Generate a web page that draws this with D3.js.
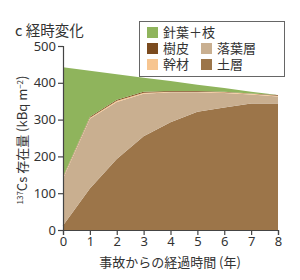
<!DOCTYPE html>
<html>
<head>
<meta charset="utf-8">
<script src="https://cdn.jsdelivr.net/npm/d3@7"></script>
<style>
  body { margin: 0; background: #fff; }
  text { font-family: "Noto Sans CJK JP", "Noto Sans", sans-serif; fill: #333; }
</style>
</head>
<body>
<div id="chart"></div>
<script>
// years since accident
let years = [0, 1, 2, 3, 4, 5, 6, 7, 8];

// layer amounts (kBq m-2), bottom to top
let soil   = [12, 113, 193, 255, 293, 321, 333, 344, 344];
let litter = [128, 189, 155, 115, 81, 53, 39, 24, 19];
let trunk  = [3, 3, 3, 3, 2, 2, 2, 2, 2];
let bark   = [2, 3, 3, 3, 2, 2, 2, 1, 2];
let needle = [297, 125, 69, 38, 27, 17, 10, 5, 0];

let yTicks = [0, 100, 200, 300, 400, 500];

let keys = ["soil", "litter", "trunk", "bark", "needle"];
let colors = {soil: "#9c7549", litter: "#c9af90", trunk: "#f7c590", bark: "#7b4b1f", needle: "#8fb45c"};
let labels = {soil: "土層", litter: "落葉層", trunk: "幹材", bark: "樹皮", needle: "針葉＋枝"};

let rows = years.map(function (y, i) {
    return {year: y, soil: soil[i], litter: litter[i], trunk: trunk[i], bark: bark[i], needle: needle[i]};
});

let margin = {top: 46, right: 22, bottom: 50, left: 63};
let width = 300 - margin.left - margin.right,
    height = 280 - margin.top - margin.bottom;

let svg = d3.select("#chart").append("svg")
    .attr("width", 300)
    .attr("height", 280);

let g = svg.append("g")
    .attr("transform", "translate(" + margin.left + "," + margin.top + ")");

let x = d3.scaleLinear().domain([0, 8]).range([0, width]);
let y = d3.scaleLinear().domain([0, 500]).range([height, 0]);

let series = d3.stack().keys(keys)(rows);

let area = d3.area()
    .x(function (d) { return x(d.data.year); })
    .y0(function (d) { return y(d[0]); })
    .y1(function (d) { return y(d[1]); });

g.selectAll("path.layer")
    .data(series)
    .enter().append("path")
    .attr("class", "layer")
    .attr("d", area)
    .attr("fill", function (d) { return colors[d.key]; });

// axes
let yAxis = g.append("g")
    .call(d3.axisLeft(y).tickValues(yTicks).tickSize(5).tickPadding(2));
let xAxis = g.append("g")
    .attr("transform", "translate(0," + height + ")")
    .call(d3.axisBottom(x).ticks(8).tickSize(5).tickPadding(2));

[yAxis, xAxis].forEach(function (a) {
    a.select(".domain").attr("stroke", "#444").attr("stroke-width", 1.2);
    a.selectAll(".tick line").attr("stroke", "#444").attr("stroke-width", 1.2);
    a.selectAll(".tick text")
        .style("font-family", "'Noto Sans', sans-serif")
        .style("font-size", "13px")
        .attr("fill", "#333");
});

// title
svg.append("text")
    .attr("x", 15)
    .attr("y", 36)
    .style("font-size", "14.5px")
    .text("c 経時変化");

// y axis label
let yl = svg.append("text")
    .attr("transform", "translate(27,140) rotate(-90)")
    .attr("text-anchor", "middle")
    .style("font-size", "13px");
yl.append("tspan").style("font-size", "8px").attr("dy", "-4").text("137");
yl.append("tspan").attr("dy", "4").text("Cs 存在量 (kBq m");
yl.append("tspan").style("font-size", "8px").attr("dy", "-4").text("−2");
yl.append("tspan").attr("dy", "4").text(")");

// x axis label
svg.append("text")
    .attr("x", 170)
    .attr("y", 267)
    .attr("text-anchor", "middle")
    .style("font-size", "13px")
    .text("事故からの経過時間 (年)");

// legend
let legend = svg.append("g");
legend.append("rect")
    .attr("x", 139.5).attr("y", 21.5)
    .attr("width", 145).attr("height", 55)
    .attr("fill", "#fff")
    .attr("stroke", "#666");

let legendItems = [
    {key: "needle", col: 0, row: 0},
    {key: "bark", col: 0, row: 1},
    {key: "litter", col: 1, row: 1},
    {key: "trunk", col: 0, row: 2},
    {key: "soil", col: 1, row: 2}
];

let item = legend.selectAll("g.item")
    .data(legendItems)
    .enter().append("g")
    .attr("class", "item")
    .attr("transform", function (d) {
        return "translate(" + (147 + d.col * 54) + "," + (27 + d.row * 16) + ")";
    });
item.append("rect")
    .attr("width", 11).attr("height", 11)
    .attr("fill", function (d) { return colors[d.key]; });
item.append("text")
    .attr("x", 16).attr("y", 10)
    .style("font-size", "13px")
    .text(function (d) { return labels[d.key]; });
</script>
</body>
</html>
